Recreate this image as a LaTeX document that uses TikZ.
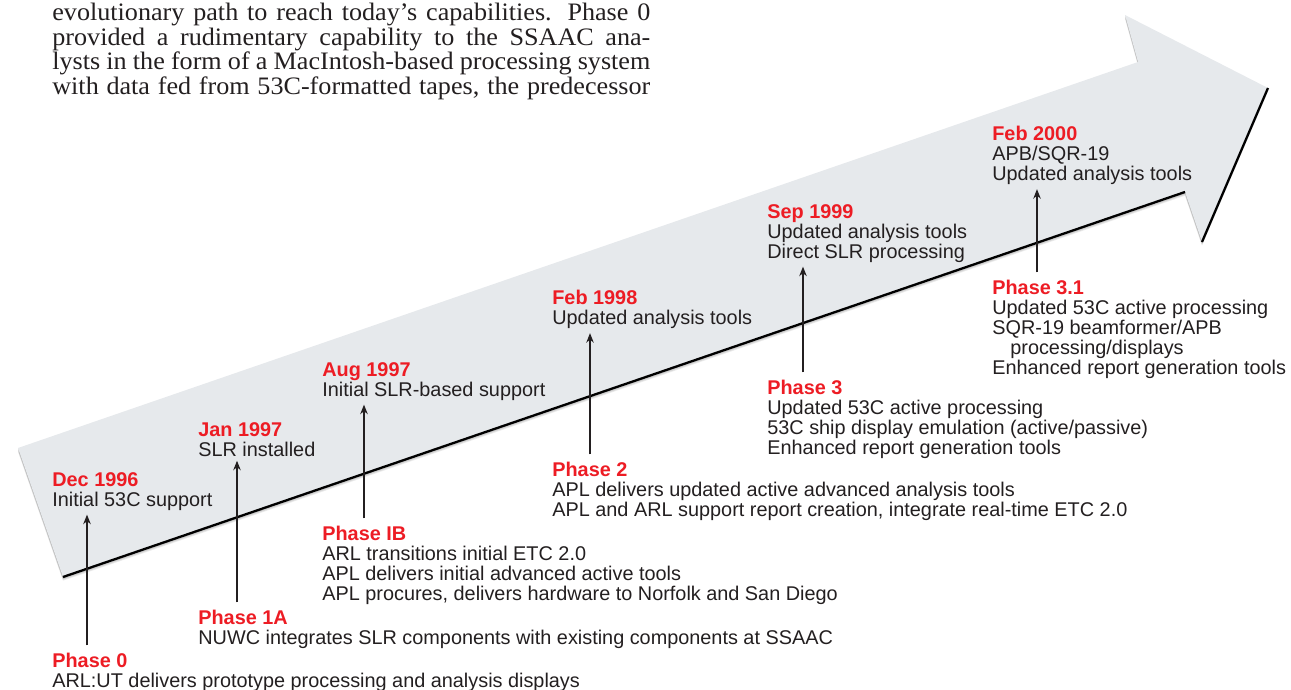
\documentclass[tikz,border=0pt]{standalone}
\usepackage{fontspec}
\setmainfont{Liberation Sans}
\newfontfamily\bookface[FakeStretch=1.04]{Liberation Serif}
\usetikzlibrary{arrows.meta}

\definecolor{phasered}{RGB}{237,28,36}
\definecolor{inktext}{RGB}{35,31,32}
\definecolor{bandgray}{RGB}{230,233,236}

\newcommand{\hd}[1]{{\color{phasered}\bfseries #1}}

\tikzset{
  stage/.style={anchor=north west,align=left,inner sep=0.08cm,text=inktext,
    font=\fontsize{11.3}{11.38}\selectfont},
  tick/.style={draw=inktext,line width=0.6pt,shorten <=2pt,
    -{Stealth[length=1.9mm,width=1.5mm]}},
  band/.style={insert path={(0.36,4.84) -- (22.76,12.56) -- (22.5,13.5) -- (25.36,12.04)
    -- (24.04,8.96) -- (23.7,9.96) -- (1.26,2.26) -- cycle}},
}

\begin{document}
\begin{tikzpicture}
\useasboundingbox (0,0) rectangle (25.82,13.8);
\clip (0,0) rectangle (25.82,13.8);

% page text running above the figure
\node[anchor=north west,inner sep=0,align=left,text=inktext,
  font=\bookface\fontsize{14.3}{14.05}\selectfont] (page) at (1.04,13.745) {%
  \makebox[11.96cm][s]{evolutionary path to reach today’s capabilities. Phase 0}\\
  \makebox[11.96cm][s]{provided a rudimentary capability to the SSAAC ana-}\\
  \makebox[11.96cm][s]{lysts in the form of a MacIntosh-based processing system}\\
  \makebox[11.96cm][s]{with data fed from 53C-formatted tapes, the predecessor}};

% the big arrow, soft shadow first
\fill[black,opacity=0.07,yshift=-0.015cm,band];
\fill[black,opacity=0.07,yshift=-0.03cm,band];
\fill[black,opacity=0.07,yshift=-0.045cm,band];
\fill[black,opacity=0.07,yshift=-0.06cm,band];
\fill[black,opacity=0.07,yshift=-0.075cm,band];
\fill[bandgray,band];
\draw[line width=1.3pt] (1.26,2.26) -- (23.7,9.96);
\draw[line width=1.3pt] (25.36,12.04) -- (24.04,8.96);

% milestones on the arrow
\node[stage] (d96) at (0.96,4.44) {\hd{Dec 1996}\\Initial 53C support};
\node[stage] (d97) at (3.88,5.44) {\hd{Jan 1997}\\SLR installed};
\node[stage] (a97) at (6.36,6.64) {\hd{Aug 1997}\\Initial SLR-based support};
\node[stage] (f98) at (10.96,8.08) {\hd{Feb 1998}\\Updated analysis tools};
\node[stage] (s99) at (15.26,9.8) {\hd{Sep 1999}\\Updated analysis tools\\Direct SLR processing};
\node[stage] (f00) at (19.76,11.36) {\hd{Feb 2000}\\APB/SQR-19\\Updated analysis tools};

% phases below
\node[stage] (p0) at (0.96,0.82) {\hd{Phase 0}\\ARL:UT delivers prototype processing and analysis displays};
\node[stage] (p1a) at (3.88,1.68) {\hd{Phase 1A}\\NUWC integrates SLR components with existing components at SSAAC};
\node[stage] (p1b) at (6.36,3.36) {\hd{Phase IB}\\ARL transitions initial ETC 2.0\\APL delivers initial advanced active tools\\APL procures, delivers hardware to Norfolk and San Diego};
\node[stage] (p2) at (10.96,4.64) {\hd{Phase 2}\\APL delivers updated active advanced analysis tools\\APL and ARL support report creation, integrate real-time ETC 2.0};
\node[stage] (p3) at (15.26,6.28) {\hd{Phase 3}\\Updated 53C active processing\\53C ship display emulation (active/passive)\\Enhanced report generation tools};
\node[stage] (p31) at (19.76,8.28) {\hd{Phase 3.1}\\Updated 53C active processing\\SQR-19 beamformer/APB\\\hspace*{0.36cm}processing/displays\\Enhanced report generation tools};

% ticks from each phase up to its date
\path (p0.north west) ++(0.78,0) coordinate (t0);
\path (p1a.north west) ++(0.86,0) coordinate (t1a);
\path (p1b.north west) ++(0.92,0) coordinate (t1b);
\path (p2.north west) ++(0.84,0) coordinate (t2);
\path (p3.north west) ++(0.80,0) coordinate (t3);
\path (p31.north west) ++(0.98,0) coordinate (t31);
\draw[tick] (t0) -- (t0 |- d96.south);
\draw[tick] (t1a) -- (t1a |- d97.south);
\draw[tick] (t1b) -- (t1b |- a97.south);
\draw[tick] (t2) -- (t2 |- f98.south);
\draw[tick] (t3) -- (t3 |- s99.south);
\draw[tick] (t31) -- (t31 |- f00.south);
\end{tikzpicture}
\end{document}
